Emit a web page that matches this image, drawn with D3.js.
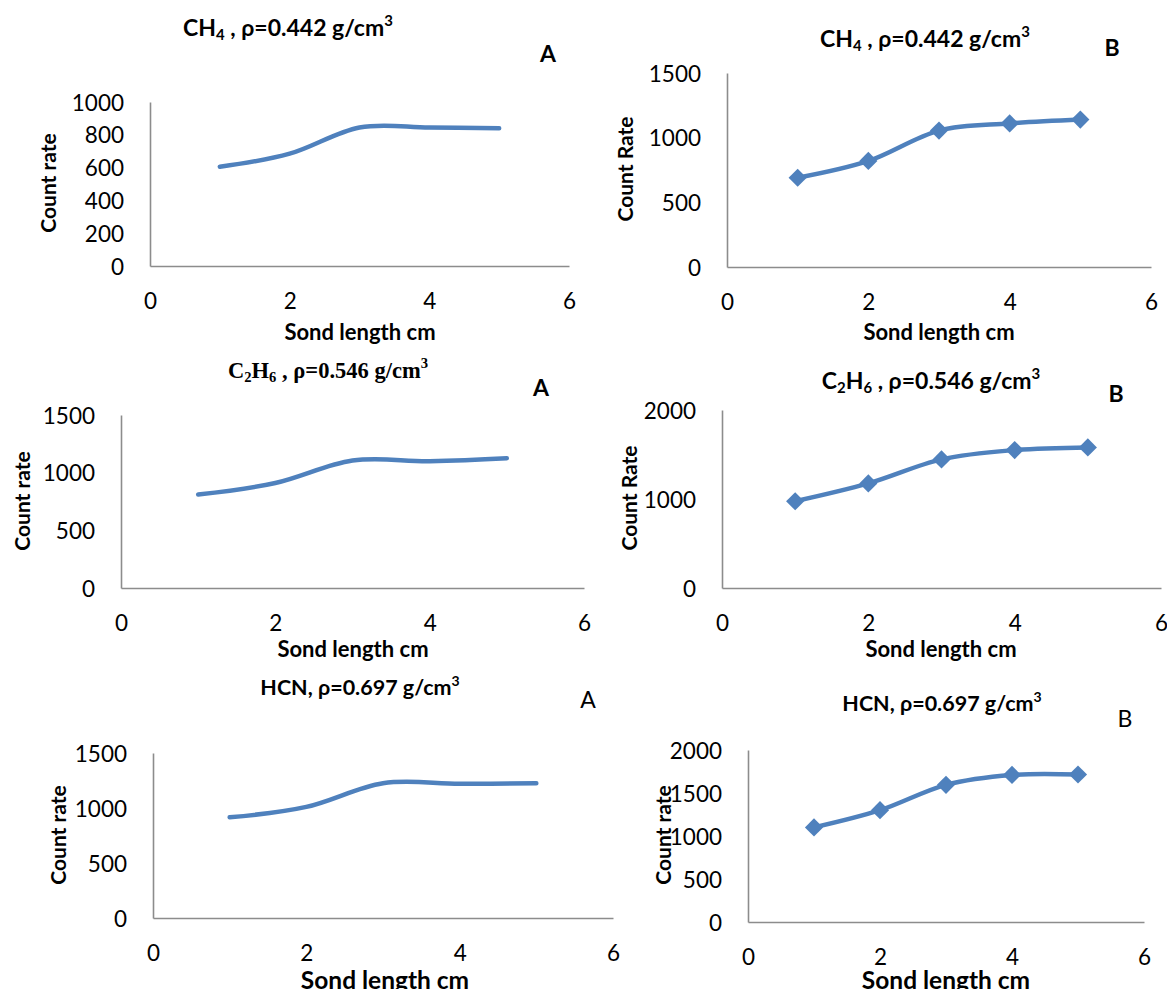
<!DOCTYPE html>
<html><head><meta charset="utf-8">
<script src="https://cdn.jsdelivr.net/npm/d3@7"></script>
<style>body{margin:0;background:#fff}svg{display:block}</style>
</head><body>
<svg id="chart" width="1167" height="989"></svg>
<script>
// Sond length (cm) at which each count rate was recorded
const sondLength = [1, 2, 3, 4, 5];

// Count rates, detector A and detector B, for each gas
const ch4A  = [605, 685, 845, 845, 840];
const ch4B  = [690, 820, 1055, 1110, 1140];
const c2h6A = [810, 910, 1105, 1100, 1125];
const c2h6B = [975, 1175, 1445, 1550, 1580];
const hcnA  = [915, 1010, 1225, 1220, 1225];
const hcnB  = [1100, 1300, 1595, 1710, 1715];

// Axis ticks
const xTicks = [0, 2, 4, 6];
const yTicks1000 = [0, 200, 400, 600, 800, 1000];
const yTicks1500 = [0, 500, 1000, 1500];
const yTicks2000by1000 = [0, 1000, 2000];
const yTicks2000by500 = [0, 500, 1000, 1500, 2000];

// Titles, split into runs so sub- and superscripts can be drawn
const titleCH4  = [["CH"], ["4", "sub"], [" , ρ=0.442 g/cm"], ["3", "sup"]];
const titleC2H6 = [["C"], ["2", "sub"], ["H"], ["6", "sub"], [" , ρ=0.546 g/cm"], ["3", "sup"]];
const titleHCN  = [["HCN, ρ=0.697 g/cm"], ["3", "sup"]];
const xTitle = "Sond length cm";

const SANS = "Lato, 'Open Sans', sans-serif";
const SERIF = "'Liberation Serif', 'DejaVu Serif', serif";
const BLUE = "#4F81BD";
const AXIS = "#8c8c8c";

// Panel layouts (pixel frames for each small chart)
const panels = [
  { values: ch4A, yMax: 1000, yTicks: yTicks1000, markers: false,
    frame: { left: 150, right: 569, bottom: 266, top: 102 },
    title: titleCH4, titleFont: SANS, titleSize: 23, titleX: 288, titleY: 27,
    tag: "A", tagBold: true, tagX: 548, tagY: 53,
    yTitle: "Count rate", yTitleX: 47, yTitleY: 183, yTitleSize: 21,
    xTitleX: 360, xTitleY: 331, xTitleSize: 22 },
  { values: ch4B, yMax: 1500, yTicks: yTicks1500, markers: true,
    frame: { left: 727, right: 1151, bottom: 267, top: 73 },
    title: titleCH4, titleFont: SANS, titleSize: 23, titleX: 925, titleY: 38,
    tag: "B", tagBold: true, tagX: 1112, tagY: 47,
    yTitle: "Count Rate", yTitleX: 624, yTitleY: 169, yTitleSize: 21,
    xTitleX: 939, xTitleY: 331, xTitleSize: 22 },
  { values: c2h6A, yMax: 1500, yTicks: yTicks1500, markers: false,
    frame: { left: 121, right: 584, bottom: 588, top: 415 },
    title: titleC2H6, titleFont: SERIF, titleSize: 22.5, titleX: 328, titleY: 370,
    tag: "A", tagBold: true, tagX: 541, tagY: 387,
    yTitle: "Count rate", yTitleX: 21, yTitleY: 501, yTitleSize: 21,
    xTitleX: 353, xTitleY: 648, xTitleSize: 22 },
  { values: c2h6B, yMax: 2000, yTicks: yTicks2000by1000, markers: true,
    frame: { left: 722, right: 1161, bottom: 588, top: 410 },
    title: titleC2H6, titleFont: SANS, titleSize: 23, titleX: 931, titleY: 380,
    tag: "B", tagBold: true, tagX: 1116, tagY: 393,
    yTitle: "Count Rate", yTitleX: 628, yTitleY: 498, yTitleSize: 21,
    xTitleX: 941, xTitleY: 648, xTitleSize: 22 },
  { values: hcnA, yMax: 1500, yTicks: yTicks1500, markers: false,
    frame: { left: 153, right: 613, bottom: 918, top: 753 },
    title: titleHCN, titleFont: SANS, titleSize: 21.5, titleX: 360, titleY: 687,
    tag: "A", tagBold: false, tagX: 588, tagY: 699,
    yTitle: "Count rate", yTitleX: 57, yTitleY: 835, yTitleSize: 21,
    xTitleX: 385, xTitleY: 979, xTitleSize: 24.5 },
  { values: hcnB, yMax: 2000, yTicks: yTicks2000by500, markers: true,
    frame: { left: 748, right: 1144, bottom: 922, top: 750 },
    title: titleHCN, titleFont: SANS, titleSize: 21.5, titleX: 942, titleY: 703,
    tag: "B", tagBold: false, tagX: 1125, tagY: 718,
    yTitle: "Count rate", yTitleX: 662, yTitleY: 835, yTitleSize: 21,
    xTitleX: 946, xTitleY: 979, xTitleSize: 24.5 }
];

const svg = d3.select("#chart");
svg.append("rect").attr("width", 1167).attr("height", 989).attr("fill", "#fff");

function drawTitle(g, runs, x, y, font, size) {
  const t = g.append("text")
    .attr("x", x).attr("y", y)
    .attr("text-anchor", "middle")
    .attr("dominant-baseline", "central")
    .attr("font-family", font)
    .attr("font-weight", "bold")
    .attr("font-size", size)
    .attr("fill", "#000");
  let offset = 0; // current baseline shift
  runs.forEach(([txt, kind]) => {
    const s = t.append("tspan").text(txt);
    let target = 0;
    if (kind === "sub") { target = size * 0.3; s.attr("font-size", size * 0.65); }
    if (kind === "sup") { target = -size * 0.32; s.attr("font-size", size * 0.65); }
    if (target !== offset) s.attr("dy", target - offset);
    offset = target;
  });
}

panels.forEach(p => {
  const g = svg.append("g");
  const f = p.frame;
  const x = d3.scaleLinear().domain([0, 6]).range([f.left, f.right]);
  const y = d3.scaleLinear().domain([0, p.yMax]).range([f.bottom, f.top]);

  // y axis
  const ya = g.append("g").attr("transform", `translate(${f.left},0)`)
    .call(d3.axisLeft(y).tickValues(p.yTicks).tickSize(0).tickSizeOuter(0).tickPadding(26).tickFormat(d3.format("d")));
  // x axis
  const xa = g.append("g").attr("transform", `translate(0,${f.bottom})`)
    .call(d3.axisBottom(x).tickValues(xTicks).tickSize(0).tickSizeOuter(0).tickFormat(d3.format("d")));
  [ya, xa].forEach(a => {
    a.select(".domain").attr("stroke", AXIS).attr("stroke-width", 1.6);
    a.selectAll("text").attr("font-family", SANS).attr("font-size", 22.5).attr("fill", "#000");
  });
  ya.selectAll("text").attr("dy", "0.36em");
  xa.selectAll("text").attr("y", 35).attr("dy", "0.36em");

  // series line (smoothed)
  const pts = sondLength.map((s, i) => [s, p.values[i]]);
  const line = d3.line().x(d => x(d[0])).y(d => y(d[1])).curve(d3.curveCardinal.tension(0));
  g.append("path").datum(pts)
    .attr("d", line)
    .attr("fill", "none")
    .attr("stroke", BLUE)
    .attr("stroke-width", 4.5)
    .attr("stroke-linecap", "round")
    .attr("stroke-linejoin", "round");

  if (p.markers) {
    const sym = d3.symbol(d3.symbolSquare, 165);
    g.selectAll("path.mk").data(pts).join("path")
      .attr("class", "mk")
      .attr("d", sym)
      .attr("transform", d => `translate(${x(d[0])},${y(d[1])}) rotate(45)`)
      .attr("fill", BLUE);
  }

  drawTitle(g, p.title, p.titleX, p.titleY, p.titleFont, p.titleSize);

  g.append("text")
    .attr("x", p.tagX).attr("y", p.tagY)
    .attr("text-anchor", "middle").attr("dominant-baseline", "central")
    .attr("font-family", SANS).attr("font-size", 23)
    .attr("font-weight", p.tagBold ? "bold" : "normal")
    .text(p.tag);

  g.append("text")
    .attr("transform", `translate(${p.yTitleX},${p.yTitleY}) rotate(-90)`)
    .attr("text-anchor", "middle").attr("dominant-baseline", "central")
    .attr("font-family", SANS).attr("font-weight", "bold").attr("font-size", p.yTitleSize)
    .text(p.yTitle);

  g.append("text")
    .attr("x", p.xTitleX).attr("y", p.xTitleY)
    .attr("text-anchor", "middle").attr("dominant-baseline", "central")
    .attr("font-family", SANS).attr("font-weight", "bold").attr("font-size", p.xTitleSize)
    .text(xTitle);
});
</script>
</body></html>
